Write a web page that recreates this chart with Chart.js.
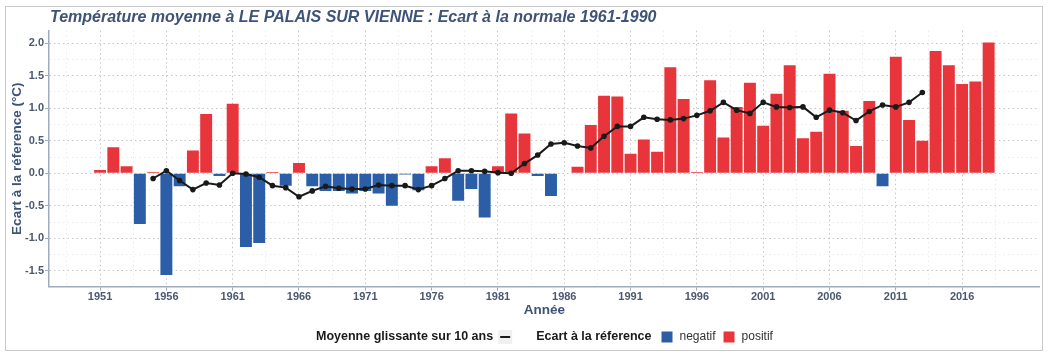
<!DOCTYPE html>
<html><head><meta charset="utf-8">
<script src="https://cdn.jsdelivr.net/npm/chart.js@4.4.1/dist/chart.umd.min.js"></script>
<style>html,body{margin:0;padding:0;background:#fff;overflow:hidden}canvas{display:block}</style>
</head><body>
<canvas id="c" width="1048" height="357"></canvas>
<script>
// ---- data ----
const years = [1951,1952,1953,1954,1955,1956,1957,1958,1959,1960,1961,1962,1963,1964,1965,1966,1967,1968,1969,1970,
  1971,1972,1973,1974,1975,1976,1977,1978,1979,1980,1981,1982,1983,1984,1985,1986,1987,1988,1989,1990,
  1991,1992,1993,1994,1995,1996,1997,1998,1999,2000,2001,2002,2003,2004,2005,2006,2007,2008,2009,2010,
  2011,2012,2013,2014,2015,2016,2017,2018];
const anomalies = [0.05,0.40,0.11,-0.78,0.02,-1.56,-0.20,0.35,0.91,-0.04,1.07,-1.13,-1.07,0.02,-0.19,0.16,-0.20,-0.27,-0.27,-0.31,
  -0.27,-0.31,-0.50,-0.02,-0.26,0.11,0.23,-0.42,-0.24,-0.68,0.11,0.92,0.61,-0.04,-0.35,0.00,0.10,0.74,1.19,1.18,
  0.30,0.52,0.33,1.63,1.14,0.02,1.43,0.55,1.02,1.39,0.73,1.22,1.66,0.54,0.64,1.53,0.96,0.42,1.11,-0.20,
  1.79,0.82,0.50,1.88,1.66,1.37,1.41,2.01];
const avgYears = [1955,1956,1957,1958,1959,1960,1961,1962,1963,1964,1965,1966,1967,1968,1969,1970,
  1971,1972,1973,1974,1975,1976,1977,1978,1979,1980,1981,1982,1983,1984,1985,1986,1987,1988,1989,1990,
  1991,1992,1993,1994,1995,1996,1997,1998,1999,2000,2001,2002,2003,2004,2005,2006,2007,2008,2009,2010,
  2011,2012,2013];
const movingAvg = [-0.08,0.04,-0.11,-0.25,-0.15,-0.18,0.00,-0.01,-0.06,-0.19,-0.22,-0.36,-0.27,-0.20,-0.23,-0.24,
  -0.24,-0.18,-0.19,-0.19,-0.25,-0.19,-0.08,0.04,0.04,0.03,0.01,0.00,0.15,0.28,0.45,0.47,0.42,0.39,0.57,0.72,
  0.72,0.86,0.83,0.82,0.84,0.89,0.96,1.09,0.97,0.92,1.09,1.02,1.01,1.02,0.86,0.97,0.93,0.81,0.95,1.05,
  1.02,1.09,1.24];
const xTickLabels = ['1951','1956','1961','1966','1971','1976','1981','1986','1991','1996','2001','2006','2011','2016'];
const yTickLabels = ['-1.5','-1.0','-0.5','0.0','0.5','1.0','1.5','2.0'];

const FONT = '"Liberation Sans", Arial, Helvetica, sans-serif';
const TITLE_COL = '#3e5378';
const TICK_COL = '#4b5870';
const AXIS_COL = '#9eabbd';
const BLUE = '#2b5ea7';
const RED = '#e8353b';

const xMajor = xTickLabels.map(Number);
const xTicks = [];
xMajor.forEach((v, i) => { xTicks.push(v - 2.5); xTicks.push(v); });
xTicks.push(xMajor[xMajor.length - 1] + 2.5);
const yMajor = yTickLabels.map(Number);
const yTicks = [];
yMajor.forEach((v, i) => { yTicks.push(v); if (i < yMajor.length - 1) yTicks.push(v + 0.25); });

const negData = years.map((y, i) => ({x: y, y: anomalies[i] < 0 ? anomalies[i] : null}));
const posData = years.map((y, i) => ({x: y, y: anomalies[i] >= 0 ? anomalies[i] : null}));
const avgData = avgYears.map((y, i) => ({x: y, y: movingAvg[i]}));

const decor = {
  id: 'decor',
  beforeDraw(chart) {
    const ctx = chart.ctx;
    ctx.save();
    ctx.fillStyle = '#fff';
    ctx.fillRect(0, 0, chart.width, chart.height);
    ctx.strokeStyle = '#c9c9c9';
    ctx.lineWidth = 1;
    ctx.strokeRect(5.5, 6.5, 1037, 344);
    ctx.restore();
  },
  afterDraw(chart) {
    const ctx = chart.ctx;
    const ca = chart.chartArea;
    ctx.save();
    // title
    ctx.fillStyle = TITLE_COL;
    ctx.textBaseline = 'middle';
    ctx.textAlign = 'left';
    ctx.font = 'italic bold 16px ' + FONT;
    ctx.fillText('Température moyenne à LE PALAIS SUR VIENNE : Ecart à la normale 1961-1990', 50, 17.5);
    // axis titles
    ctx.font = 'bold 13.5px ' + FONT;
    ctx.textAlign = 'center';
    ctx.fillText('Année', (ca.left + ca.right) / 2, 310);
    ctx.save();
    ctx.translate(17, (ca.top + ca.bottom) / 2);
    ctx.rotate(-Math.PI / 2);
    ctx.fillText('Ecart à la réference (°C)', 0, 0);
    ctx.restore();
    // legend
    const y = 337;
    ctx.textAlign = 'left';
    ctx.font = 'bold 12.5px ' + FONT;
    ctx.fillStyle = '#1a1a1a';
    let x = 316;
    const t1 = 'Moyenne glissante sur 10 ans';
    ctx.fillText(t1, x, y);
    x += ctx.measureText(t1).width + 5;
    ctx.fillStyle = '#f0f0f0';
    ctx.fillRect(x, y - 7, 14, 14);
    ctx.strokeStyle = '#1a1a1a';
    ctx.lineWidth = 2;
    ctx.beginPath(); ctx.moveTo(x + 2, y); ctx.lineTo(x + 12, y); ctx.stroke();
    x += 14 + 24;
    const t2 = 'Ecart à la réference';
    ctx.fillStyle = '#1a1a1a';
    ctx.fillText(t2, x, y);
    x += ctx.measureText(t2).width + 10;
    ctx.font = '12px ' + FONT;
    [[BLUE, 'negatif'], [RED, 'positif']].forEach(([c, t]) => {
      ctx.fillStyle = c;
      ctx.fillRect(x, y - 5.5, 11, 11);
      x += 11 + 7;
      ctx.fillStyle = '#333';
      ctx.fillText(t, x, y);
      x += ctx.measureText(t).width + 8;
    });
    ctx.restore();
  }
};

new Chart(document.getElementById('c'), {
  type: 'bar',
  data: {
    datasets: [
      {type: 'line', label: 'Moyenne glissante sur 10 ans', data: avgData, borderColor: '#1a1a1a', backgroundColor: '#1a1a1a',
        borderWidth: 2, pointRadius: 1.8, pointHoverRadius: 1.8, tension: 0, order: 0},
      {label: 'negatif', data: negData, backgroundColor: BLUE, grouped: false, barPercentage: 0.9, categoryPercentage: 1, order: 1},
      {label: 'positif', data: posData, backgroundColor: RED, grouped: false, barPercentage: 0.9, categoryPercentage: 1, order: 1}
    ]
  },
  options: {
    responsive: false,
    animation: false,
    devicePixelRatio: 1,
    layout: {padding: {top: 30.7, right: 8.3, left: 0, bottom: 0}},
    plugins: {legend: {display: false}, title: {display: false}, tooltip: {enabled: false}},
    scales: {
      x: {
        type: 'linear', min: 1947.15, max: 2021.85, offset: false,
        afterBuildTicks: s => { s.ticks = xTicks.map(v => ({value: v})); },
        afterFit: s => { s.height = 357 - 286.6; },
        ticks: {autoSkip: false, maxRotation: 0, minRotation: 0, padding: 0, color: TICK_COL,
          font: {family: FONT, size: 11, weight: 'bold'},
          callback: v => xMajor.includes(v) ? String(v) : ''},
        grid: {
          offset: false,
          color: c => (c.tick && xMajor.includes(c.tick.value)) ? '#c6c6c6' : '#ebebeb',
          tickColor: c => (c.tick && xMajor.includes(c.tick.value)) ? AXIS_COL : 'rgba(0,0,0,0)',
          tickLength: 4, lineWidth: 1
        },
        border: {display: true, color: AXIS_COL, width: 1.5, dash: [1.5, 3]}
      },
      y: {
        min: -1.74, max: 2.19,
        afterBuildTicks: s => { s.ticks = yTicks.map(v => ({value: v})); },
        afterFit: s => { s.width = 49; },
        ticks: {padding: 1, color: TICK_COL, font: {family: FONT, size: 11, weight: 'bold'},
          callback: v => yMajor.includes(v) ? v.toFixed(1) : ''},
        grid: {
          color: c => (c.tick && yMajor.includes(c.tick.value)) ? '#c6c6c6' : '#ebebeb',
          tickColor: c => (c.tick && yMajor.includes(c.tick.value)) ? AXIS_COL : 'rgba(0,0,0,0)',
          tickLength: 4, lineWidth: 1
        },
        border: {display: true, color: AXIS_COL, width: 1.5, dash: [1.5, 3]}
      }
    }
  },
  plugins: [decor]
});
</script>
</body></html>
